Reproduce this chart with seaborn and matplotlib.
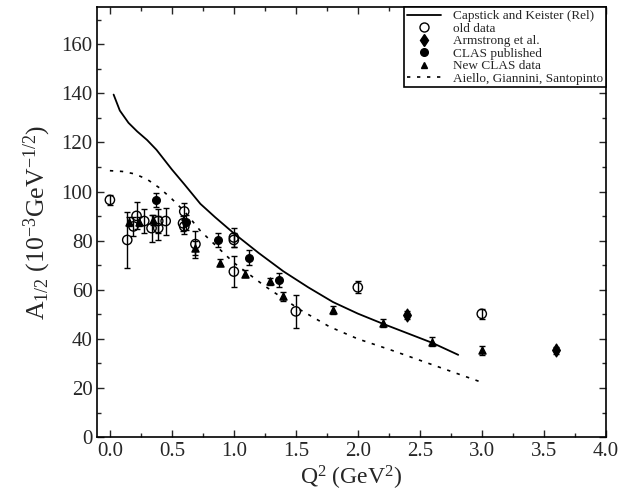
import matplotlib
matplotlib.use("Agg")
import matplotlib.pyplot as plt
import seaborn as sns
import pandas as pd
from matplotlib.lines import Line2D
from matplotlib.ticker import MultipleLocator, FormatStrFormatter

# ---- data ----
capstick_q2 = [0.03, 0.08, 0.15, 0.22, 0.30, 0.376, 0.5, 0.6, 0.73, 0.85, 1.0, 1.2, 1.4, 1.6, 1.8, 2.0, 2.2, 2.4, 2.6, 2.81]
capstick_a = [139.5, 133, 128, 124.5, 121, 117, 109, 103, 95, 89.5, 83, 75, 67.5, 61, 55, 50.3, 46.2, 42.3, 38.4, 33.5]

aiello_q2 = [0.0, 0.1, 0.2, 0.3, 0.4, 0.5, 0.6, 0.73, 1.0, 1.25, 1.53, 1.77, 2.0, 2.26, 2.6, 3.0]
aiello_a = [108.5, 108.2, 107.2, 105, 101.5, 97, 92, 84, 71, 61.5, 52, 45, 40, 35.6, 29.5, 22.3]

old_q2 = [0.0, 0.14, 0.19, 0.215, 0.277, 0.336, 0.39, 0.39, 0.45, 0.60, 0.59, 0.60, 0.69, 1.0, 1.0, 1.0, 1.5, 2.0, 3.0]
old_a = [96.6, 80.3, 85.8, 90.1, 88.0, 85.1, 88.0, 85.1, 88.0, 91.9, 87.1, 85.8, 78.6, 81.3, 80.3, 67.4, 51.2, 61.0, 50.2]
old_err = [2.0, 11.5, 4.0, 5.5, 5.0, 5.5, 5.0, 5.0, 5.5, 3.5, 3.0, 3.0, 5.5, 4.0, 3.0, 6.2, 6.8, 2.4, 2.0]

arm_q2 = [2.4, 3.6]
arm_a = [49.7, 35.3]
arm_err = [1.5, 1.5]

clas_q2 = [0.37, 0.61, 0.87, 1.12, 1.365]
clas_a = [96.6, 87.5, 80.3, 73.1, 64.0]
clas_err = [3.0, 3.0, 3.0, 3.0, 3.0]

new_q2 = [0.153, 0.237, 0.35, 0.69, 0.89, 1.09, 1.29, 1.40, 1.8, 2.2, 2.6, 3.0]
new_a = [87.8, 87.8, 88.5, 77.0, 71.1, 66.5, 63.4, 57.3, 51.8, 46.4, 38.9, 35.3]
new_err = [2.0, 2.0, 2.0, 3.0, 1.5, 1.5, 1.5, 1.8, 1.5, 1.5, 1.8, 1.8]

legend_labels = ["Capstick and Keister (Rel)", "old data", "Armstrong et al.",
                 "CLAS published", "New CLAS data", "Aiello, Giannini, Santopinto"]

# ---- style ----
sns.set_theme(style="ticks")
plt.rcParams["font.family"] = ["Liberation Serif", "DejaVu Serif"]
plt.rcParams["mathtext.fontset"] = "custom"
plt.rcParams["mathtext.rm"] = "Liberation Serif"
plt.rcParams["mathtext.it"] = "Liberation Serif:italic"

fig = plt.figure(figsize=(6.29, 4.95), dpi=100)
ax = fig.add_axes([0.155, 0.117, 0.808, 0.868])

sns.lineplot(x=capstick_q2, y=capstick_a, ax=ax, color="black", lw=1.3, sort=False)
sns.lineplot(x=aiello_q2, y=aiello_a, ax=ax, color="black", lw=1.2, sort=False,
             linestyle=(0, (2, 4)))

def draw(q, a, e, marker, face, ms, lw=1.0):
    ax.errorbar(q, a, yerr=e, fmt="none", ecolor="black", elinewidth=1.0,
                capsize=2.3, capthick=1.0, zorder=3)
    df = pd.DataFrame({"q": q, "a": a})
    sns.scatterplot(data=df, x="q", y="a", ax=ax, marker=marker, s=ms,
                    facecolor=face, edgecolor="black", linewidth=lw, zorder=4)

draw(new_q2, new_a, new_err, "^", "black", 26)
draw(clas_q2, clas_a, clas_err, "o", "black", 30)
draw(arm_q2, arm_a, arm_err, "d", "black", 42)
draw(old_q2, old_a, old_err, "o", "none", 45, lw=1.0)

ax.set_xlim(-0.1, 4.0)
ax.set_ylim(0, 175)
ax.xaxis.set_major_locator(MultipleLocator(0.5))
ax.xaxis.set_minor_locator(MultipleLocator(0.25))
ax.yaxis.set_major_locator(MultipleLocator(20))
ax.yaxis.set_minor_locator(MultipleLocator(10))
ax.xaxis.set_major_formatter(FormatStrFormatter("%.1f"))
ax.tick_params(which="both", direction="in", top=True, right=True, labelsize=15, width=1)
ax.tick_params(which="major", length=5)
ax.tick_params(which="minor", length=3)
for s in ax.spines.values():
    s.set_linewidth(1.2)
    s.set_color("black")

ax.set_xlabel("Q$^{2}$ (GeV$^{2}$)", fontsize=17, labelpad=2)
ax.set_ylabel("A$_{1/2}$ (10$^{-3}$GeV$^{-1/2}$)", fontsize=18.5, labelpad=6)

handles = [
    Line2D([], [], color="black", lw=1.3),
    Line2D([], [], ls="none", marker="o", mfc="none", mec="black", ms=6.5),
    Line2D([], [], ls="none", marker="d", mfc="black", mec="black", ms=6.5),
    Line2D([], [], ls="none", marker="o", mfc="black", mec="black", ms=5.5),
    Line2D([], [], ls="none", marker="^", mfc="black", mec="black", ms=5),
    Line2D([], [], color="black", lw=1.2, ls=(0, (2, 4))),
]
leg = ax.legend(handles, legend_labels, loc="upper right", fontsize=9.5,
                frameon=True, fancybox=False, edgecolor="black", framealpha=1,
                borderaxespad=0, labelspacing=0.02, handlelength=2.6,
                handletextpad=0.9, borderpad=0.2)
leg.get_frame().set_linewidth(1.2)

fig.savefig("out.png", dpi=100)
